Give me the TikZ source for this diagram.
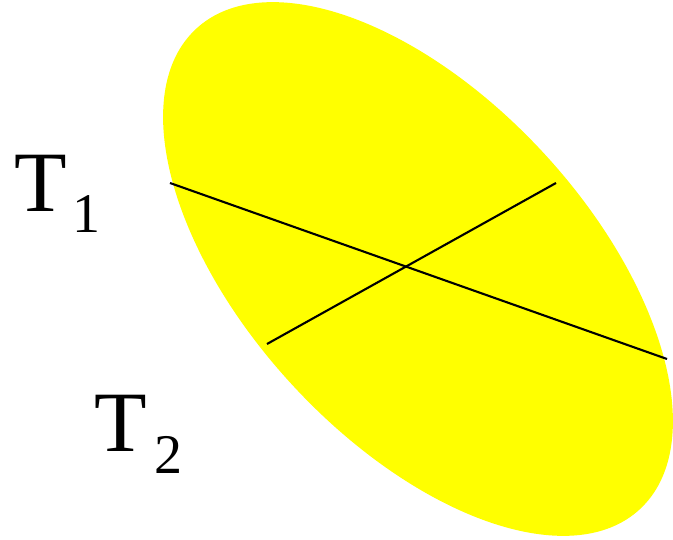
\documentclass[tikz,border=0pt]{standalone}
\usepackage{fontspec}
\setmainfont{Liberation Serif}
\definecolor{ellyellow}{RGB}{255,255,0}
\begin{document}
\begin{tikzpicture}[x=1pt,y=-1pt,
  axisline/.style={draw=black,line width=2.1pt},
  lbl/.style={anchor=base west,inner sep=0pt,font=\fontsize{86}{86}\selectfont}]
\useasboundingbox (0,0) rectangle (673,540);
\coordinate (c) at (418,269);
\fill[ellyellow] (c) ellipse [x radius=327pt, y radius=171pt, rotate=-47.3];
\coordinate (a1) at (170,183);
\coordinate (a2) at (667,359);
\coordinate (b1) at (267,344);
\coordinate (b2) at (556,183);
\draw[axisline] (a1) -- (a2);
\draw[axisline] (b1) -- (b2);
\node[lbl] (t1) at (14,212) {T\hspace{6pt}\raisebox{-21pt}{\fontsize{56}{56}\selectfont 1}};
\node[lbl] (t2) at (94,452) {T\hspace{8pt}\raisebox{-21pt}{\fontsize{56}{56}\selectfont 2}};
\end{tikzpicture}
\end{document}
